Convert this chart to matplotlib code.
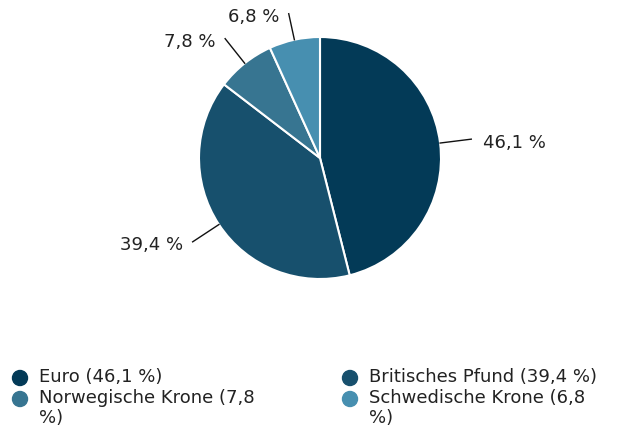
import numpy as np
import matplotlib.pyplot as plt
from matplotlib.patches import Circle

labels = ["Euro", "Britisches Pfund", "Norwegische Krone", "Schwedische Krone"]
values = [46.1, 39.4, 7.8, 6.8]
value_text = ["46,1 %", "39,4 %", "7,8 %", "6,8 %"]
legend_text = ["Euro (46,1 %)", "Britisches Pfund (39,4 %)",
               "Norwegische Krone (7,8\n%)", "Schwedische Krone (6,8\n%)"]
colors = ["#033a57", "#17506d", "#377591", "#478fb0"]

plt.rcParams['font.family'] = ['DejaVu Sans']
txt_color = "#222222"

W, H = 631, 430
fig = plt.figure(figsize=(W / 100, H / 100), dpi=100)
cx, cy, r = 320, 158, 121
ax = fig.add_axes([(cx - r) / W, (H - cy - r) / H, 2 * r / W, 2 * r / H])
wedges, _ = ax.pie(values, colors=colors, startangle=90, counterclock=False,
                   radius=1, wedgeprops=dict(edgecolor="white", linewidth=1.5))
ax.set_xlim(-1, 1)
ax.set_ylim(-1, 1)
ax.axis("off")

# leader lines + value labels
for w, t in zip(wedges, value_text):
    ang = np.deg2rad((w.theta1 + w.theta2) / 2)
    c, s = np.cos(ang), np.sin(ang)
    e = 1.22 if s > 0.9 else 1.26
    ax.plot([c, e * c], [s, e * s], color="#111111", lw=1, clip_on=False)
    ha = "left" if c > 0 else "right"
    ax.text(e * c + (0.1 if c > 0 else -0.08), e * s - 0.03, t,
            ha=ha, va="center", fontsize=13, color=txt_color)

# legend drawn by hand
pos = [(20, 378), (350, 378), (20, 399), (350, 399)]
for (x, y), col, t in zip(pos, colors, legend_text):
    fig.patches.append(Circle((x, H - y), 7.5, color=col, transform=None))
    fig.text((x + 19) / W, (H - y + 10) / H, t, ha="left", va="top",
             fontsize=13, color=txt_color, linespacing=1.15)

fig.savefig("out.png", dpi=100)
